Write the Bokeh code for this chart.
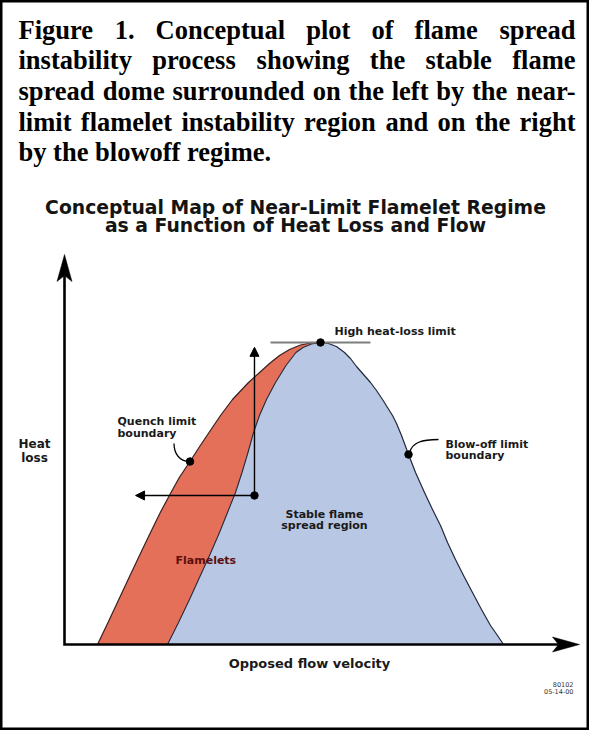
from bokeh.plotting import figure
from bokeh.models import Range1d, Arrow, NormalHead
from bokeh.core.properties import value
from bokeh.embed import file_html
from bokeh.resources import INLINE

# ---------------- data ----------------
caption_lines = [
    "Figure 1. Conceptual plot of flame spread",
    "instability process showing the stable flame",
    "spread dome surrounded on the left by the near-",
    "limit flamelet instability region and on the right",
    "by the blowoff regime.",
]
title_lines = ["Conceptual Map of Near-Limit Flamelet Regime",
               "as a Function of Heat Loss and Flow"]
x_label = "Opposed flow velocity"
y_label_lines = ["Heat", "loss"]
quench_label = ["Quench limit", "boundary"]
blowoff_label = ["Blow-off limit", "boundary"]
peak_label = "High heat-loss limit"
stable_label = ["Stable flame", "spread region"]
flamelet_label = "Flamelets"
stamp_lines = ["80102", "05-14-00"]

# both axes run 0..100 (arbitrary units)
axis_max = 100.0

# quench-limit boundary (left edge of the flamelet band), bottom -> peak
quench_x = [6.41, 8.45, 10.54, 12.54, 14.56, 16.70, 18.60, 20.68, 22.29, 24.37, 26.12,
            28.06, 30.29, 32.62, 35.73, 37.67, 39.81, 41.75, 43.69, 45.83, 47.77, 49.71]
quench_y = [0.0, 5.64, 11.54, 17.18, 22.82, 28.72, 33.85, 38.97, 42.82, 46.92, 50.51,
            54.36, 58.72, 62.82, 67.18, 69.49, 72.05, 74.10, 75.64, 76.79, 77.31, 77.44]
# left edge of the stable-spread dome (right edge of the flamelet band), bottom -> peak
stable_x = [20.00, 22.14, 24.27, 26.21, 28.16, 30.10, 31.65, 33.20, 34.47, 35.63, 36.70,
            37.86, 39.22, 40.97, 43.01, 44.95, 46.31, 47.96, 49.71]
stable_y = [0.0, 5.64, 11.54, 17.18, 22.82, 28.72, 33.85, 38.97, 44.10, 49.23, 54.36,
            58.72, 62.82, 67.18, 71.54, 74.87, 76.15, 77.05, 77.44]
# blow-off limit boundary (right edge of the dome), peak -> bottom
blowoff_x = [49.71, 51.26, 52.82, 54.37, 55.53, 56.70, 58.06, 59.42, 60.58, 61.75, 62.72,
             63.69, 64.47, 65.44, 66.80, 68.16, 69.90, 71.46, 73.01, 74.37, 75.92, 77.48,
             79.22, 80.97, 82.72, 84.08, 85.24]
blowoff_y = [77.44, 77.18, 76.41, 74.87, 73.33, 71.28, 69.23, 67.18, 65.13, 62.82, 60.77,
             58.72, 56.67, 53.59, 48.72, 44.10, 38.97, 34.62, 30.51, 26.15, 21.79, 17.69,
             13.33, 8.97, 4.87, 2.31, 0.0]

peak_point = (49.71, 77.44)
quench_point = (24.37, 46.92)
blowoff_point = (66.80, 48.72)
state_point = (36.89, 38.21)
state_up_to = 76.2      # heat loss reached by the vertical arrow
state_left_to = 13.8    # flow reached by the horizontal arrow
peak_line_x = (40.0, 59.4)

# ---------------- layout helpers (page pixels -> data units) ----------------
W, H = 589, 730
OX, OY = 72.0, 652.0          # page position of the origin
SX, SY = 5.15, 3.9            # pixels per data unit


def px(X):
    return (X - OX) / SX


def py(Y):
    return (OY - Y) / SY


def to_px_x(x):
    return OX + x * SX


def to_px_y(y):
    return OY - y * SY


p = figure(width=W, height=H, output_backend="svg", toolbar_location=None,
           x_range=Range1d(px(8), px(8 + W)), y_range=Range1d(py(8 + H), py(8)),
           x_axis_type=None, y_axis_type=None, min_border=0)
p.xgrid.visible = False
p.ygrid.visible = False
p.outline_line_color = "black"
p.outline_line_width = 4
p.background_fill_color = "white"
p.border_fill_color = "white"

SANS = value("DejaVu Sans")
SERIF = value("Liberation Serif")

# ---------------- regions ----------------
RED = "#E4705A"
BLUE = "#B8C7E3"
EDGE = "#23283a"

red_x = quench_x + stable_x[::-1]
red_y = quench_y + stable_y[::-1]
blue_x = stable_x + blowoff_x
blue_y = stable_y + blowoff_y
p.patch(red_x, red_y, fill_color=RED, line_color=None)
p.patch(blue_x, blue_y, fill_color=BLUE, line_color=None)
p.line(quench_x, quench_y, line_color="#3a1f1f", line_width=1.2, line_join="round")
p.line(stable_x, stable_y, line_color=EDGE, line_width=1.1, line_join="round")
p.line(blowoff_x, blowoff_y, line_color=EDGE, line_width=1.2, line_join="round")

# high heat-loss limit line
p.line(list(peak_line_x), [peak_point[1]] * 2, line_color="#7d7d7d", line_width=2)

# ---------------- axes with arrowheads ----------------
L_HEAD, HW_HEAD, NOTCH = 27.0, 7.5, 21.0
p.line([0, 0, axis_max - NOTCH / SX], [axis_max - NOTCH / SY, 0, 0],
       line_color="black", line_width=2.6, line_join="miter")
tipx, tipy = to_px_x(0), to_px_y(axis_max)
p.patch([px(tipx), px(tipx + HW_HEAD), px(tipx), px(tipx - HW_HEAD)],
        [py(tipy), py(tipy + L_HEAD), py(tipy + NOTCH), py(tipy + L_HEAD)],
        fill_color="black", line_color="black", line_width=0.5)
tipx, tipy = to_px_x(axis_max), to_px_y(0)
p.patch([px(tipx), px(tipx - L_HEAD), px(tipx - NOTCH), px(tipx - L_HEAD)],
        [py(tipy), py(tipy - HW_HEAD), py(tipy), py(tipy + HW_HEAD)],
        fill_color="black", line_color="black", line_width=0.5)

# ---------------- state arrows ----------------
for xe, ye in [(state_point[0], state_up_to), (state_left_to, state_point[1])]:
    p.add_layout(Arrow(x_start=state_point[0], y_start=state_point[1], x_end=xe, y_end=ye,
                       line_color="black", line_width=1.4,
                       end=NormalHead(size=9, fill_color="black", line_color="black", line_width=1)))

# ---------------- leaders ----------------
qx, qy = to_px_x(quench_point[0]), to_px_y(quench_point[1])
p.bezier(x0=[px(qx - 16)], y0=[py(qy - 18)], x1=[px(qx - 2)], y1=[py(qy)],
         cx0=[px(qx - 16)], cy0=[py(qy - 7)], cx1=[px(qx - 10)], cy1=[py(qy - 1)],
         line_color="black", line_width=1.3)
bx, by = to_px_x(blowoff_point[0]), to_px_y(blowoff_point[1])
p.bezier(x0=[px(bx + 1)], y0=[py(by - 2)], x1=[px(bx + 30)], y1=[py(by - 15)],
         cx0=[px(bx + 4)], cy0=[py(by - 12)], cx1=[px(bx + 13)], cy1=[py(by - 15)],
         line_color="black", line_width=1.3)

# ---------------- dots ----------------
dots = [peak_point, quench_point, blowoff_point, state_point]
p.scatter([d[0] for d in dots], [d[1] for d in dots], size=7.5,
          fill_color="black", line_color="black")

# ---------------- caption (justified, Times bold) ----------------
TB = {' ': 250, '-': 333, '.': 250, '1': 500, 'C': 722, 'F': 611, 'a': 500, 'b': 556,
      'c': 444, 'd': 556, 'e': 444, 'f': 333, 'g': 500, 'h': 556, 'i': 278, 'l': 278,
      'm': 833, 'n': 556, 'o': 500, 'p': 556, 'r': 444, 's': 389, 't': 333, 'u': 556,
      'v': 500, 'w': 722, 'y': 500}
CAP_FS = 26.5


def tw(s):
    return sum(TB.get(c, 500) for c in s) * CAP_FS / 1000.0


LEFT, RIGHT, BASE0, LEAD = 26.0, 583.0, 37.0, 30.7
lx, ly, lt, rx, ry, rt = [], [], [], [], [], []
for i, line in enumerate(caption_lines):
    words = line.split(" ")
    ws = [tw(w) for w in words]
    justify = i < len(caption_lines) - 1
    gap = (RIGHT - LEFT - sum(ws)) / (len(words) - 1) if justify else tw(" ")
    base = BASE0 + i * LEAD
    xcur = LEFT
    for j, w in enumerate(words):
        if justify and j == len(words) - 1:
            rx.append(px(RIGHT)); ry.append(py(base)); rt.append(w)
        else:
            lx.append(px(xcur)); ly.append(py(base)); lt.append(w)
        xcur += ws[j] + gap
cap_style = dict(text_font=SERIF, text_font_style="bold", text_font_size=f"{CAP_FS}px",
                 text_color="black", text_baseline="alphabetic")
p.text(lx, ly, text=lt, text_align="left", **cap_style)
p.text(rx, ry, text=rt, text_align="right", **cap_style)

# ---------------- chart title ----------------
p.text([px(303)] * 2, [py(214.5), py(232.5)], text=title_lines, text_font=SANS,
       text_font_style="bold", text_font_size="18.8px", text_align="center",
       text_baseline="alphabetic", text_color="#141414")


def label(xs, ys, texts, size="11px", align="left", color="#1a1a1a", style="bold"):
    p.text([px(x) for x in xs], [py(y) for y in ys], text=texts, text_font=SANS,
           text_font_style=style, text_font_size=size, text_align=align,
           text_baseline="alphabetic", text_color=color)


label([42, 42], [451, 465], y_label_lines, size="12px", align="center")
label([317], [671], [x_label], size="13px", align="center")
label([342], [339], [peak_label])
label([125, 125], [429, 440.5], quench_label)
label([453, 453], [451.5, 463], blowoff_label)
label([332, 332], [521.5, 532.5], stable_label, align="center")
label([183], [567.5], [flamelet_label], color="#5a0f0f")
label([581, 581], [691.5, 698.5], stamp_lines, size="6.5px", align="right",
      color="#333333", style="normal")

open("out.html", "w").write(file_html(p, INLINE))
